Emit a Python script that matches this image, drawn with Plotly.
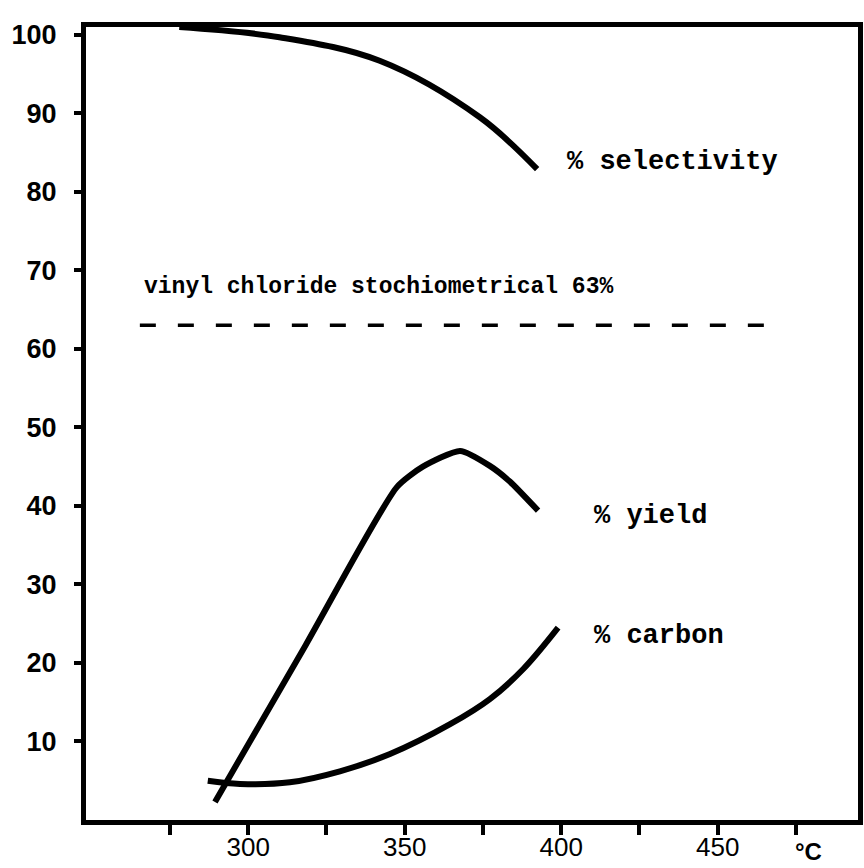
import plotly.graph_objects as go

# temperature (°C) and percentages
sel_T = [278, 310, 342, 374, 392.3]
sel_V = [101.0, 99.7, 96.7, 89.5, 82.9]

yield_T = [289.4, 318.4, 347.5, 355.8, 367.7, 377.2, 383.6, 392.6]
yield_V = [2.3, 22.3, 42.4, 45.0, 47.0, 45.1, 43.1, 39.4]

carbon_T = [287.1, 297.4, 313.3, 329.3, 345.3, 364.5, 377.2, 387.8, 399.0]
carbon_V = [5.0, 4.6, 4.8, 6.2, 8.4, 12.2, 15.4, 19.2, 24.5]

stoich_T = [265.4, 468.3]
stoich_V = [63, 63]

x_ticks = [275, 300, 325, 350, 375, 400, 425, 450, 475]
x_ticktext = ["", "300", "", "350", "", "400", "", "450", ""]
y_ticks = [10, 20, 30, 40, 50, 60, 70, 80, 90, 100]

mono = "Liberation Mono"

fig = go.Figure()
for T, V, sm in [(sel_T, sel_V, 1.0), (yield_T, yield_V, 0.6), (carbon_T, carbon_V, 1.0)]:
    fig.add_trace(go.Scatter(x=T, y=V, mode="lines",
                             line=dict(color="black", width=6, shape="spline", smoothing=sm),
                             showlegend=False, hoverinfo="skip"))
fig.add_trace(go.Scatter(x=stoich_T, y=stoich_V, mode="lines",
                         line=dict(color="black", width=3.5, dash="16px,22px"),
                         showlegend=False, hoverinfo="skip"))

ann = dict(showarrow=False, xanchor="left", yanchor="middle",
           font=dict(family=mono, size=27, color="black", weight="bold"))
fig.add_annotation(x=401.2, y=83.8, text="% selectivity", **ann)
fig.add_annotation(x=409.8, y=38.7, text="% yield", **ann)
fig.add_annotation(x=409.8, y=23.4, text="% carbon", **ann)
fig.add_annotation(x=266.1, y=67.9, text="vinyl chloride stochiometrical 63%",
                   showarrow=False, xanchor="left", yanchor="middle",
                   font=dict(family=mono, size=23, color="black", weight="bold"))
fig.add_annotation(x=479, y=-0.04, xref="x", yref="paper", text="°C", showarrow=False,
                   xanchor="center", yanchor="middle",
                   font=dict(family="Liberation Sans", size=24, color="black", weight="bold"))

fig.update_layout(
    width=864, height=868,
    margin=dict(l=86, r=6, t=27, b=48, autoexpand=False),
    paper_bgcolor="white", plot_bgcolor="white",
    xaxis=dict(range=[248.2, 494.8], showgrid=False, zeroline=False,
               showline=True, mirror=True, linecolor="black", linewidth=5,
               ticks="outside", ticklen=10, tickwidth=4, tickcolor="black",
               tickvals=x_ticks, ticktext=x_ticktext, ticklabelstandoff=-10,
               tickfont=dict(family="Liberation Sans", size=26, color="black"),
               automargin=False),
    yaxis=dict(range=[0, 101.0], showgrid=False, zeroline=False,
               showline=True, mirror=True, linecolor="black", linewidth=5,
               ticks="outside", ticklen=7, tickwidth=4, tickcolor="black",
               tickvals=y_ticks, ticklabelstandoff=12,
               tickfont=dict(family="Liberation Sans", size=27, color="black", weight="bold"),
               automargin=False),
)

fig.write_html("out.html")
